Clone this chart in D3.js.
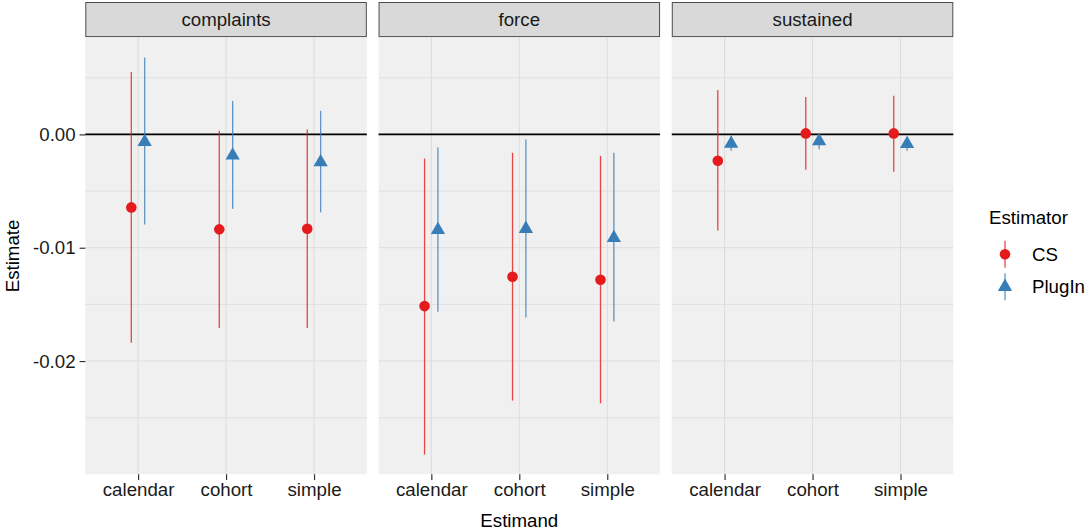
<!DOCTYPE html>
<html>
<head>
<meta charset="utf-8">
<script src="https://cdn.jsdelivr.net/npm/d3@7"></script>
<style>
  body { margin: 0; background: #fff; }
  text { font-family: "Liberation Sans", Arial, Helvetica, sans-serif; }
</style>
</head>
<body>
<script>
// facets, categories and series
var panels = ["complaints", "force", "sustained"];
var estimands = ["calendar", "cohort", "simple"];
var estimators = ["CS", "PlugIn"];

// CS estimator, one row per panel, columns follow estimands
var csEst   = [[-0.00644, -0.00838, -0.00833], [-0.01515, -0.01256, -0.01283], [-0.00233, 0.00009, 0.00009]];
var csLow   = [[-0.01839, -0.01709, -0.01709], [-0.02824, -0.02349, -0.02373], [-0.00847, -0.00312, -0.00330]];
var csHigh  = [[0.00550, 0.00032, 0.00044], [-0.00212, -0.00162, -0.00189], [0.00391, 0.00329, 0.00340]];

// PlugIn estimator
var piEst   = [[-0.00066, -0.00185, -0.00245], [-0.00843, -0.00833, -0.00913], [-0.00082, -0.00060, -0.00084]];
var piLow   = [[-0.00794, -0.00656, -0.00688], [-0.01565, -0.01615, -0.01650], [-0.00145, -0.00132, -0.00145]];
var piHigh  = [[0.00679, 0.00294, 0.00208], [-0.00115, -0.00044, -0.00162], [-0.00010, 0.00010, -0.00020]];

var majorTicks = [0, -0.01, -0.02];
var minorTicks = [0.005, -0.005, -0.015, -0.025];

var width = 1086, height = 531;
// note: "top" is reserved on window, so the panel edges get their own names
var pLeft = 85.3, pRight = 953.3, pTop = 37.6, pBottom = 474.3;
var stripH = 34.6;
var colors = {CS: "#E41A1C", PlugIn: "#377EB8"};
var fontSize = "18.7px";

// flatten into rows
var rows = [];
panels.forEach(function(p, i) {
  estimands.forEach(function(e, j) {
    rows.push({panel: p, estimand: e, estimator: "CS", est: csEst[i][j], lo: csLow[i][j], hi: csHigh[i][j]});
    rows.push({panel: p, estimand: e, estimator: "PlugIn", est: piEst[i][j], lo: piLow[i][j], hi: piHigh[i][j]});
  });
});

var svg = d3.select("body").append("svg")
  .attr("width", width)
  .attr("height", height);

// y range with ggplot style 5% expansion
var ymin = d3.min(rows, function(d) { return d.lo; });
var ymax = d3.max(rows, function(d) { return d.hi; });
var pad = (ymax - ymin) * 0.05;
var y = d3.scaleLinear().domain([ymin - pad, ymax + pad]).range([pBottom, pTop]);

var px = d3.scaleBand().domain(panels).range([pLeft, pRight]).paddingInner(0.04);

var dodge = d3.scaleOrdinal().domain(estimators).range([-0.077, 0.075]);

function symbolPath(est) {
  var r = 5.3;
  if (est === "CS") return d3.symbol().type(d3.symbolCircle).size(Math.PI * r * r)();
  // R pch 17 triangle, centroid on the point
  var xc = r * 1.347, rt = r * 1.555;
  return "M0," + (-rt) + "L" + xc + "," + (rt / 2) + "L" + (-xc) + "," + (rt / 2) + "Z";
}

panels.forEach(function(p) {
  var x0 = px(p), bw = px.bandwidth();
  var x = d3.scalePoint().domain(estimands).range([x0, x0 + bw]).padding(0.6);
  var g = svg.append("g");

  // panel background
  g.append("rect")
    .attr("x", x0).attr("y", pTop)
    .attr("width", bw).attr("height", pBottom - pTop)
    .attr("fill", "#F0F0F0");

  // grid
  g.selectAll(".minor").data(minorTicks).enter().append("line")
    .attr("x1", x0).attr("x2", x0 + bw)
    .attr("y1", function(d) { return y(d); }).attr("y2", function(d) { return y(d); })
    .attr("stroke", "#E0E0E0").attr("stroke-width", 1);
  g.selectAll(".major").data(majorTicks).enter().append("line")
    .attr("x1", x0).attr("x2", x0 + bw)
    .attr("y1", function(d) { return y(d); }).attr("y2", function(d) { return y(d); })
    .attr("stroke", "#DDDDDD").attr("stroke-width", 1.1);
  g.selectAll(".vgrid").data(estimands).enter().append("line")
    .attr("x1", function(d) { return x(d); }).attr("x2", function(d) { return x(d); })
    .attr("y1", pTop).attr("y2", pBottom)
    .attr("stroke", "#DDDDDD").attr("stroke-width", 1.1);

  // zero line
  g.append("line")
    .attr("x1", x0).attr("x2", x0 + bw)
    .attr("y1", y(0)).attr("y2", y(0))
    .attr("stroke", "#000").attr("stroke-width", 1.6);

  var pr = rows.filter(function(d) { return d.panel === p; });
  var cx = function(d) { return x(d.estimand) + dodge(d.estimator) * x.step(); };

  // intervals
  g.selectAll(".rng").data(pr).enter().append("line")
    .attr("x1", cx).attr("x2", cx)
    .attr("y1", function(d) { return y(d.lo); })
    .attr("y2", function(d) { return y(d.hi); })
    .attr("stroke", function(d) { return colors[d.estimator]; })
    .attr("stroke-opacity", 0.8)
    .attr("stroke-width", 1.3);

  // points
  g.selectAll(".pt").data(pr).enter().append("path")
    .attr("transform", function(d) { return "translate(" + cx(d) + "," + y(d.est) + ")"; })
    .attr("d", function(d) { return symbolPath(d.estimator); })
    .attr("fill", function(d) { return colors[d.estimator]; });

  // x axis ticks and labels
  var xa = svg.append("g").attr("transform", "translate(0," + pBottom + ")");
  xa.call(d3.axisBottom(x).tickSizeInner(5.7).tickSizeOuter(0).tickPadding(3));
  xa.select(".domain").remove();
  xa.selectAll(".tick line").attr("stroke", "#333").attr("stroke-width", 1.2);
  xa.selectAll(".tick text").attr("fill", "#1a1a1a")
    .style("font-size", fontSize).style("font-family", "Liberation Sans, Arial, sans-serif");

  // strip
  svg.append("rect")
    .attr("x", x0 + 0.5).attr("y", 2.5)
    .attr("width", bw - 1).attr("height", stripH - 0.5)
    .attr("fill", "#D9D9D9").attr("stroke", "#4D4D4D").attr("stroke-width", 1);
  svg.append("text")
    .attr("x", x0 + bw / 2).attr("y", 2 + stripH / 2)
    .attr("text-anchor", "middle").attr("dominant-baseline", "central")
    .attr("fill", "#1a1a1a").style("font-size", fontSize)
    .text(p);
});

// y axis
var ya = svg.append("g").attr("transform", "translate(" + pLeft + ",0)");
ya.call(d3.axisLeft(y).tickValues(majorTicks).tickFormat(function(d) { return d.toFixed(2); })
  .tickSizeInner(5.7).tickSizeOuter(0).tickPadding(4));
ya.select(".domain").remove();
ya.selectAll(".tick line").attr("stroke", "#333").attr("stroke-width", 1.2);
ya.selectAll(".tick text").attr("fill", "#1a1a1a")
  .style("font-size", fontSize).style("font-family", "Liberation Sans, Arial, sans-serif");

// axis titles
svg.append("text")
  .attr("x", (pLeft + pRight) / 2).attr("y", 527)
  .attr("text-anchor", "middle").attr("fill", "#000")
  .style("font-size", fontSize).text("Estimand");
svg.append("text")
  .attr("transform", "translate(18.5," + ((pTop + pBottom) / 2) + ") rotate(-90)")
  .attr("text-anchor", "middle").attr("fill", "#000")
  .style("font-size", fontSize).text("Estimate");

// legend
var lg = svg.append("g");
lg.append("text").attr("x", 989).attr("y", 224)
  .attr("fill", "#000").style("font-size", fontSize).text("Estimator");
var keyY = d3.scalePoint().domain(estimators).range([254.3, 286.8]);
estimators.forEach(function(e) {
  var ky = keyY(e);
  lg.append("line")
    .attr("x1", 1005).attr("x2", 1005)
    .attr("y1", ky - 13.5).attr("y2", ky + 13.5)
    .attr("stroke", colors[e]).attr("stroke-opacity", 0.8).attr("stroke-width", 1.3);
  lg.append("path")
    .attr("transform", "translate(1005," + ky + ")")
    .attr("d", symbolPath(e))
    .attr("fill", colors[e]);
  lg.append("text").attr("x", 1032).attr("y", ky)
    .attr("dominant-baseline", "central")
    .attr("fill", "#000").style("font-size", fontSize).text(e);
});
</script>
</body>
</html>
